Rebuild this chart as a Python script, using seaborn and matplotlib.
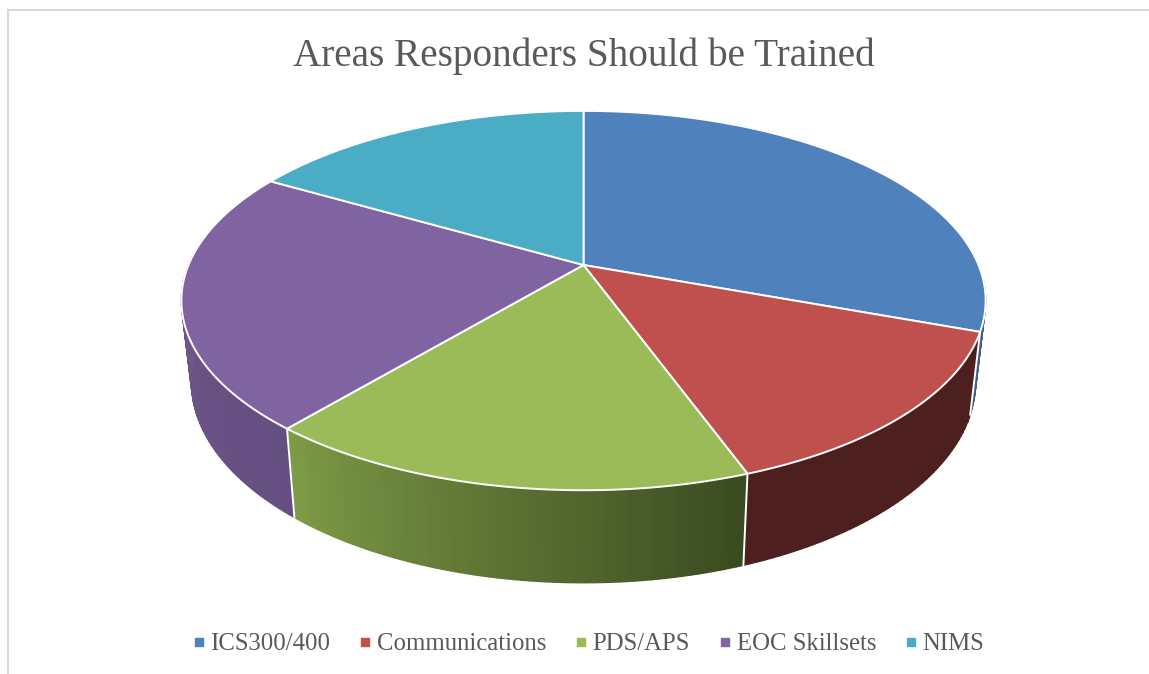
import numpy as np
import seaborn as sns
import matplotlib.pyplot as plt
from matplotlib.colors import to_rgb
from matplotlib.lines import Line2D

# slice values (counts), clockwise from 12 o'clock
labels = ['ICS300/400', 'Communications', 'PDS/APS', 'EOC Skillsets', 'NIMS']
values = [11, 5, 6, 8, 6]
top_colors = ['#4f81bd', '#c0504d', '#9bbb59', '#8064a2', '#4bacc6']
# wall shading, start and end of each slice going clockwise
wall_colors = [('#3f6088', '#3f6088'), ('#4d1f1e', '#4d1f1e'), ('#3a4a20', '#7e9b47'),
               ('#654f80', '#705789'), ('#3a7f92', '#3a7f92')]

title = 'Areas Responders Should be Trained'
grey_text = '#595959'

# perspective of the tilted disc, in pixels
CX, CY = 583.5, 265
A, B, K = 395, 183, 0.1875
BOT_X, BOT_Y, BOT_C = 0.975, 1.06, 344
WALL_FROM, WALL_TO = 95, 275


def project(deg):
    t = np.radians(deg)
    w = 1 + K * np.cos(t)
    return A * np.sin(t) / w, -B * np.cos(t) / w


def top_ring(deg):
    x, y = project(deg)
    return CX + x, CY + y


def bottom_ring(deg):
    x, y = project(deg)
    return CX + BOT_X * x, BOT_C + BOT_Y * y


sns.set_theme(style='white')
plt.rcParams['font.family'] = ['Liberation Serif', 'DejaVu Serif']

fig = plt.figure(figsize=(11.49, 6.74), dpi=100)
# axes in pixel units, its left and top spines are the chart border
ax = fig.add_axes([8 / 1149, 0, 1 - 8 / 1149, 1 - 10 / 674])
ax.set_xlim(8, 1149)
ax.set_ylim(674, 10)
ax.set_xticks([])
ax.set_yticks([])
sns.despine(ax=ax, top=False, left=False, right=True, bottom=True)
for side in ['left', 'top']:
    ax.spines[side].set_color('#d9d9d9')
    ax.spines[side].set_linewidth(1.5)

shares = np.array(values) / sum(values) * 360
edges = np.concatenate([[0], np.cumsum(shares)])

# outer wall first, the top faces then cover whatever is hidden
for i in range(len(values)):
    lo = max(edges[i], WALL_FROM)
    hi = min(edges[i + 1], WALL_TO)
    if hi <= lo:
        continue
    steps = np.linspace(lo, hi, int(hi - lo) + 2)
    c0 = np.array(to_rgb(wall_colors[i][0]))
    c1 = np.array(to_rgb(wall_colors[i][1]))
    for a, b in zip(steps[:-1], steps[1:]):
        f = ((a + b) / 2 - lo) / (hi - lo)
        col = c0 + (c1 - c0) * f
        xa, ya = top_ring(a)
        xb, yb = top_ring(b)
        xc, yc = bottom_ring(b)
        xd, yd = bottom_ring(a)
        ax.fill([xa, xb, xc, xd], [ya, yb, yc, yd], color=col, lw=1, zorder=2)

# white seams between walls
for e in edges:
    if WALL_FROM < e < WALL_TO:
        x0, y0 = top_ring(e)
        x1, y1 = bottom_ring(e)
        ax.plot([x0, x1], [y0, y1], color='white', lw=1.4, zorder=3)

# top faces
for i in range(len(values)):
    arc = np.linspace(edges[i], edges[i + 1], 120)
    xs, ys = top_ring(arc)
    ax.fill(np.r_[CX, xs], np.r_[CY, ys], facecolor=top_colors[i], edgecolor='white',
            lw=1.4, joinstyle='round', zorder=4)

ax.text(584, 56, title, ha='center', va='center', fontsize=28.3, color=grey_text)

handles = [Line2D([], [], ls='', marker='s', ms=5.2, color=c) for c in top_colors]
ax.legend(handles, labels, loc='center', bbox_to_anchor=(589, 644), bbox_transform=ax.transData,
          ncol=5, frameon=False, fontsize=17.8, labelcolor=grey_text, handlelength=0.4,
          handletextpad=0.28, columnspacing=1.2, borderpad=0)

fig.savefig('out.png', dpi=100)
